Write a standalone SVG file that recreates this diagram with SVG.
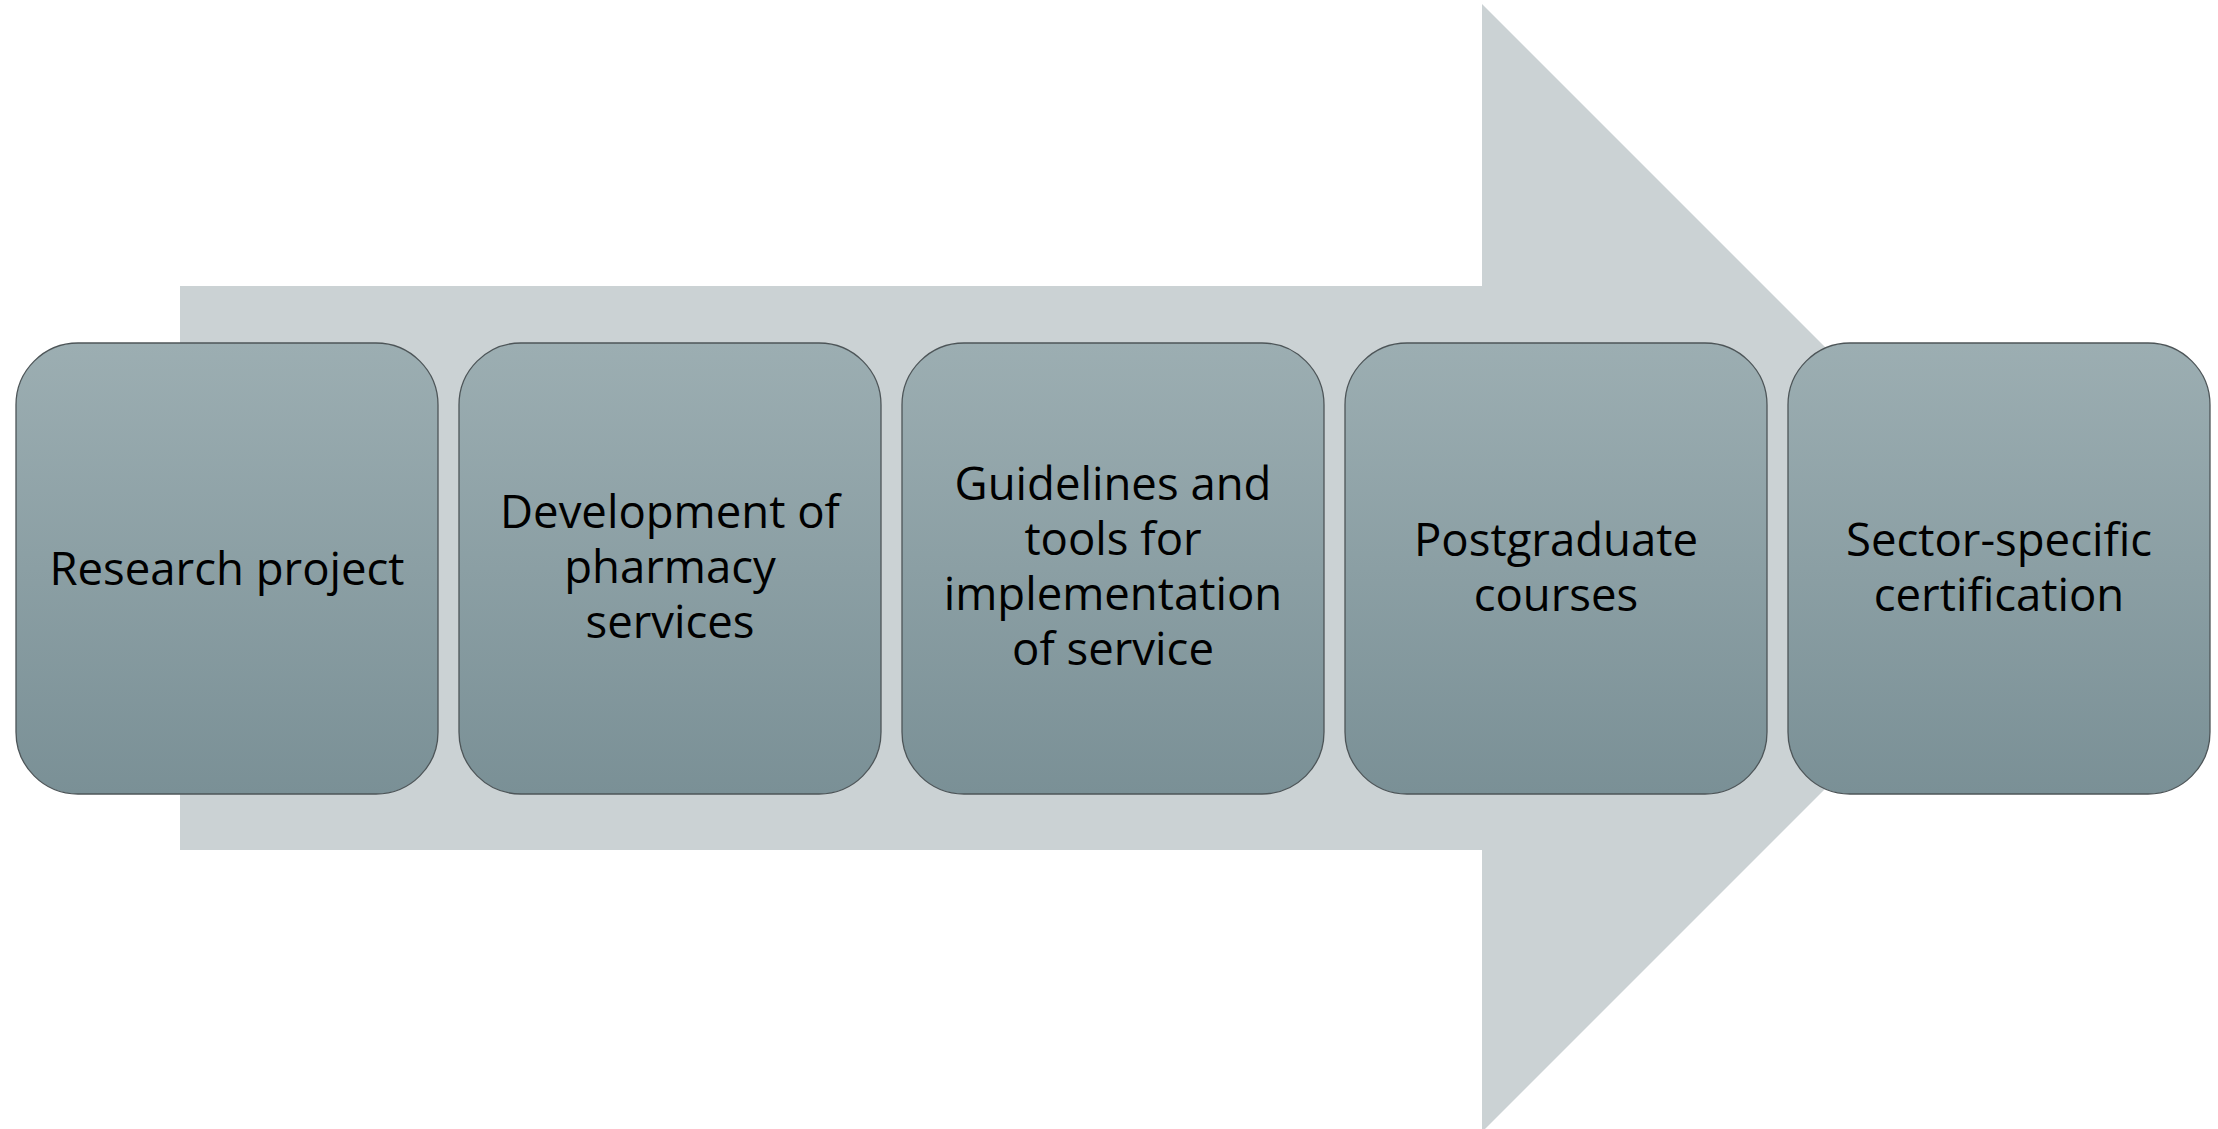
<svg xmlns="http://www.w3.org/2000/svg" width="2218" height="1129" viewBox="0 0 2218 1129">
<defs>
<linearGradient id="g" x1="0" y1="0" x2="0" y2="1">
<stop offset="0" stop-color="#9caeb2"/>
<stop offset="1" stop-color="#7a9096"/>
</linearGradient>
<style>
.box{fill:url(#g);stroke:#4d5558;stroke-width:1.3}
.t{font-family:"Open Sans","Noto Sans",sans-serif;font-size:45.5px;fill:#000;text-anchor:middle}
</style>
</defs>
<rect width="2218" height="1129" fill="#fff"/>
<g id="arrow">
<polygon points="180,286 1482,286 1482,4 2046,568 1482,1132 1482,850 180,850" fill="#cbd2d4"/>
</g>
<g id="connectors"></g>
<g id="n1"><rect class="box" x="16" y="343" width="422" height="451" rx="62" ry="62"/>
<text class="t" x="227" y="585">Research project</text></g>
<g id="n2"><rect class="box" x="459" y="343" width="422" height="451" rx="62" ry="62"/>
<text class="t" y="528"><tspan x="670">Development of</tspan><tspan x="670" dy="55">pharmacy</tspan><tspan x="670" dy="55">services</tspan></text></g>
<g id="n3"><rect class="box" x="902" y="343" width="422" height="451" rx="62" ry="62"/>
<text class="t" y="500"><tspan x="1113">Guidelines and</tspan><tspan x="1113" dy="55">tools for</tspan><tspan x="1113" dy="55">implementation</tspan><tspan x="1113" dy="55">of service</tspan></text></g>
<g id="n4"><rect class="box" x="1345" y="343" width="422" height="451" rx="62" ry="62"/>
<text class="t" y="556"><tspan x="1556">Postgraduate</tspan><tspan x="1556" dy="55">courses</tspan></text></g>
<g id="n5"><rect class="box" x="1788" y="343" width="422" height="451" rx="62" ry="62"/>
<text class="t" y="556"><tspan x="1999">Sector-specific</tspan><tspan x="1999" dy="55">certification</tspan></text></g>
</svg>
